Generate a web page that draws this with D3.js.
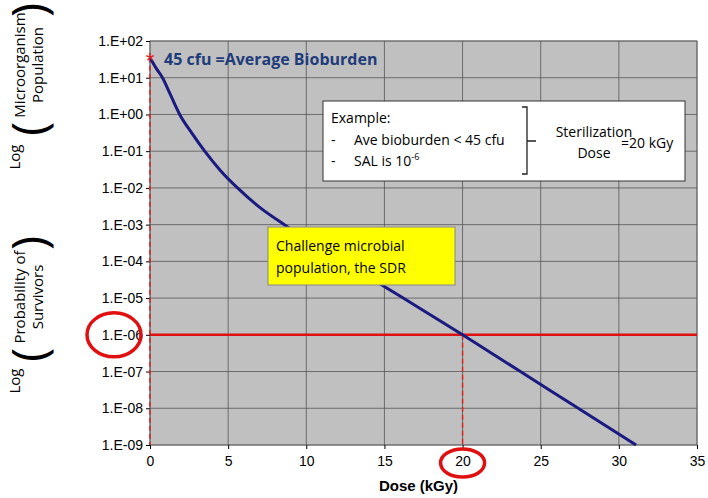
<!DOCTYPE html>
<meta charset="utf-8">
<script src="https://d3js.org/d3.v7.min.js"></script>
<style>
  body { margin: 0; background: #fff; font-family: "Liberation Sans", Arial, sans-serif; }
  text.cal, .cal text { font-family: "Open Sans", "Noto Sans", sans-serif; }
</style>
<body>
<div id="my_dataviz"></div>
<script>
// curve points (dose kGy, survivors)
var doses = [0, 0.4, 0.8, 1.3, 1.9, 2.7, 3.5, 4.5, 5.6, 7.0, 8.6, 12.4, 16.2, 20, 23.7, 27.4, 31.1];
var survivors = [35, 18, 10, 3.5, 1, 0.3, 0.1, 0.03, 0.01, 0.003, 1e-3, 1e-4, 1e-5, 1e-6, 1e-7, 1e-8, 1e-9];
var xTicks = [0, 5, 10, 15, 20, 25, 30, 35];
var yTicks = [1e2, 1e1, 1e0, 1e-1, 1e-2, 1e-3, 1e-4, 1e-5, 1e-6, 1e-7, 1e-8, 1e-9];
var yTickLabels = ["1.E+02", "1.E+01", "1.E+00", "1.E-01", "1.E-02", "1.E-03", "1.E-04", "1.E-05", "1.E-06", "1.E-07", "1.E-08", "1.E-09"];
var sal = 1e-6, sterDose = 20, bioburden = 35;

var W = 708, H = 498;
var svg = d3.select("#my_dataviz").append("svg").attr("width", W).attr("height", H);

var x = d3.scaleLinear().domain([0, 35]).range([150, 697]);
var y = d3.scaleLog().domain([1e-9, 1e2]).range([445, 41]);

// plot background
svg.append("rect").attr("x", x(0)).attr("y", y(1e2))
  .attr("width", x(35) - x(0)).attr("height", y(1e-9) - y(1e2))
  .attr("fill", "#c0c0c0").attr("stroke", "#808080");

// grid
svg.append("g").selectAll("line").data(xTicks).enter().append("line")
  .attr("x1", d => x(d)).attr("x2", d => x(d)).attr("y1", y(1e2)).attr("y2", y(1e-9))
  .attr("stroke", "#555").attr("stroke-width", 0.8);
svg.append("g").selectAll("line").data(yTicks).enter().append("line")
  .attr("x1", x(0)).attr("x2", x(35)).attr("y1", d => y(d)).attr("y2", d => y(d))
  .attr("stroke", "#555").attr("stroke-width", 0.8);

// axes
var xAxis = svg.append("g").attr("transform", "translate(0," + y(1e-9) + ")")
  .call(d3.axisBottom(x).tickValues(xTicks).tickSize(4));
xAxis.select(".domain").remove();
xAxis.selectAll("text").attr("font-size", 14).attr("fill", "#000").attr("dy", "1em");
var yAxis = svg.append("g").attr("transform", "translate(" + x(0) + ",0)")
  .call(d3.axisLeft(y).tickValues(yTicks).tickFormat((d, i) => yTickLabels[i]).tickSize(4));
yAxis.select(".domain").remove();
yAxis.selectAll("text").attr("font-size", 14).attr("fill", "#000");

svg.append("text").attr("x", (x(0) + x(35)) / 2 - 5).attr("y", 491)
  .attr("text-anchor", "middle").attr("font-size", 15).attr("font-weight", "bold").text("Dose (kGy)");

// red dashed verticals
svg.append("line").attr("x1", x(0)).attr("x2", x(0)).attr("y1", y(bioburden)).attr("y2", y(1e-9))
  .attr("stroke", "#e02020").attr("stroke-width", 1.5).attr("stroke-dasharray", "5,3");
svg.append("line").attr("x1", x(sterDose)).attr("x2", x(sterDose)).attr("y1", y(sal)).attr("y2", y(1e-9))
  .attr("stroke", "#e02020").attr("stroke-width", 1.5).attr("stroke-dasharray", "5,3");

// SAL line
svg.append("line").attr("x1", x(0)).attr("x2", x(35)).attr("y1", y(sal)).attr("y2", y(sal))
  .attr("stroke", "#e01010").attr("stroke-width", 2.5);

// survivor curve
svg.append("path").datum(d3.zip(doses, survivors))
  .attr("fill", "none").attr("stroke", "#1a1a80").attr("stroke-width", 3)
  .attr("d", d3.line().x(d => x(d[0])).y(d => y(d[1])).curve(d3.curveMonotoneX));

// start marker
svg.append("text").attr("x", x(0)).attr("y", y(bioburden) + 10).attr("text-anchor", "middle")
  .attr("font-size", 22).attr("fill", "#e02020").text("*");
svg.append("text").attr("class", "cal").attr("x", 164).attr("y", 65)
  .attr("font-size", 16).attr("font-weight", "bold").attr("fill", "#1f3c7a").text("45 cfu =Average Bioburden");

// example box
var ex = svg.append("g").attr("class", "cal");
ex.append("rect").attr("x", 323).attr("y", 101).attr("width", 362).attr("height", 80)
  .attr("fill", "#fff").attr("stroke", "#333");
ex.append("text").attr("x", 331).attr("y", 123).attr("font-size", 14).text("Example:");
ex.append("text").attr("x", 331).attr("y", 145).attr("font-size", 14).text("-");
ex.append("text").attr("x", 354).attr("y", 145).attr("font-size", 14).text("Ave bioburden < 45 cfu");
ex.append("text").attr("x", 331).attr("y", 166).attr("font-size", 14).text("-");
var salT = ex.append("text").attr("x", 354).attr("y", 166).attr("font-size", 14).text("SAL is 10");
salT.append("tspan").attr("font-size", 9).attr("dy", -6).text("-6");
ex.append("path").attr("d", "M522,107 L527,107 L527,174 L522,174 M527,141 L536,141")
  .attr("fill", "none").attr("stroke", "#222").attr("stroke-width", 1.3);
ex.append("text").attr("x", 594).attr("y", 137).attr("text-anchor", "middle").attr("font-size", 14).text("Sterilization");
ex.append("text").attr("x", 594).attr("y", 158).attr("text-anchor", "middle").attr("font-size", 14).text("Dose");
ex.append("text").attr("x", 621).attr("y", 148).attr("font-size", 14).text("=20 kGy");

// SDR box
var sdr = svg.append("g").attr("class", "cal");
sdr.append("rect").attr("x", 268).attr("y", 227).attr("width", 187).attr("height", 58)
  .attr("fill", "#ffff00").attr("stroke", "#888");
sdr.append("text").attr("x", 276).attr("y", 251).attr("font-size", 14).text("Challenge microbial");
sdr.append("text").attr("x", 276).attr("y", 273).attr("font-size", 14).text("population, the SDR");

// red ellipses
svg.append("ellipse").attr("cx", 114).attr("cy", y(sal)).attr("rx", 27).attr("ry", 22)
  .attr("fill", "none").attr("stroke", "#e01010").attr("stroke-width", 3.5);
svg.append("ellipse").attr("cx", x(sterDose)).attr("cy", 463).attr("rx", 22).attr("ry", 14)
  .attr("fill", "none").attr("stroke", "#e01010").attr("stroke-width", 3.5);

// y axis titles, rotated with big parentheses
function parenLabel(cy, lines, top, bottom, logPos) {
  var g = svg.append("g").attr("class", "cal").attr("transform", "translate(14," + cy + ") rotate(-90)");
  g.append("text").attr("x", 0).attr("y", 11).attr("text-anchor", "middle").attr("font-size", 15).text(lines[0]);
  g.append("text").attr("x", 0).attr("y", 29).attr("text-anchor", "middle").attr("font-size", 15).text(lines[1]);
  g.append("text").attr("x", bottom).attr("y", 32).attr("text-anchor", "middle").attr("font-size", 48).text("(");
  g.append("text").attr("x", top).attr("y", 32).attr("text-anchor", "middle").attr("font-size", 48).text(")");
  g.append("text").attr("x", logPos).attr("y", 6).attr("text-anchor", "middle").attr("font-size", 15).text("Log");
}
parenLabel(65, ["Microorganism", "Population"], 55, -64, -92);
parenLabel(297, ["Probability of", "Survivors"], 54, -58, -84);
</script>
</body>
